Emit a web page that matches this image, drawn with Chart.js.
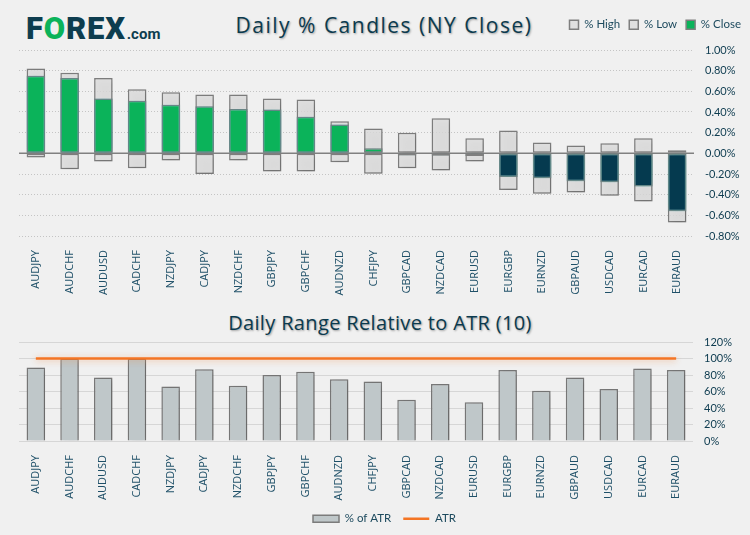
<!DOCTYPE html>
<html>
<head>
<meta charset="utf-8">
<script src="https://cdn.jsdelivr.net/npm/chart.js@4.4.1/dist/chart.umd.min.js"></script>
<style>
  html, body { margin:0; padding:0; background:#f0f0f0; }
  body { width:750px; height:535px; position:relative; overflow:hidden; font-family:'Open Sans', sans-serif; }
  canvas { position:absolute; left:0; }
  #c1 { top:0; }
  #c2 { top:300px; }
  .logo { position:absolute; left:26px; top:9px; font-family:Roboto, 'Open Sans', sans-serif; font-weight:900; font-size:31px; color:#0d3d4f; letter-spacing:0.8px; line-height:40px; }
  .logo .o { color:#0bb35a; }
  .logo small { font-size:15px; font-weight:700; letter-spacing:0; margin-left:1px; }
  .title { position:absolute; left:0; text-align:center; font-family:'Open Sans', sans-serif; color:#0b3a4e; text-shadow:1px 1px 2px rgba(0,0,0,0.35); }
  #t1 { top:11px; width:768px; font-size:21px; letter-spacing:1.5px; }
  #t2 { top:309px; width:760px; font-size:20px; letter-spacing:0.35px; }
</style>
</head>
<body>
<div class="logo">F<span class="o">O</span>REX<small>.com</small></div>
<div class="title" id="t1">Daily % Candles (NY Close)</div>
<div class="title" id="t2">Daily Range Relative to ATR (10)</div>
<canvas id="c1" width="750" height="300"></canvas>
<canvas id="c2" width="750" height="235"></canvas>
<script>
const categories = ['AUDJPY','AUDCHF','AUDUSD','CADCHF','NZDJPY','CADJPY','NZDCHF','GBPJPY','GBPCHF','AUDNZD','CHFJPY','GBPCAD','NZDCAD','EURUSD','EURGBP','EURNZD','GBPAUD','USDCAD','EURCAD','EURAUD'];
const highPct  = [0.82, 0.78, 0.73, 0.62, 0.59, 0.57, 0.57, 0.53, 0.52, 0.31, 0.24, 0.20, 0.34, 0.145, 0.22, 0.105, 0.077, 0.097, 0.145, 0.03];
const lowPct   = [-0.04, -0.155, -0.08, -0.145, -0.07, -0.20, -0.07, -0.175, -0.175, -0.087, -0.197, -0.145, -0.165, -0.078, -0.355, -0.39, -0.38, -0.41, -0.465, -0.67];
const closePct = [0.75, 0.73, 0.53, 0.51, 0.47, 0.455, 0.43, 0.425, 0.355, 0.28, 0.048, -0.02, -0.023, -0.025, -0.23, -0.24, -0.27, -0.28, -0.32, -0.56];
const atrPct   = [89, 100, 77, 100, 66, 87, 67, 80, 84, 75, 72, 50, 69, 47, 86, 61, 77, 63, 88, 86];
const atrLevel = [100, 100, 100, 100, 100, 100, 100, 100, 100, 100, 100, 100, 100, 100, 100, 100, 100, 100, 100, 100];
const topTicks = { min: -0.8, max: 1.0, step: 0.2 };
const botTicks = { min: 0, max: 120, step: 20 };

Chart.defaults.font.family = 'Lato';
Chart.defaults.color = '#0d3b4f';

const navy = '#053a4f', green = '#0bb35a';

const legendHeight = {
  id: 'legendHeight',
  beforeLayout(chart, args, opts) {
    const lg = chart.legend;
    if (lg && !lg._patched) {
      const f = lg.fit;
      lg.fit = function () { f.call(this); this.height = opts.h; };
      lg._patched = true;
    }
  }
};
const shadows = {
  id: 'shadows',
  beforeDatasetDraw(chart, args) {
    const s = chart.data.datasets[args.index].shadow;
    if (s) {
      const c = chart.ctx; c.save();
      c.shadowColor = s.color; c.shadowBlur = s.blur;
      c.shadowOffsetX = s.x || 0; c.shadowOffsetY = s.y || 0;
    }
  },
  afterDatasetDraw(chart, args) {
    if (chart.data.datasets[args.index].shadow) chart.ctx.restore();
  }
};
const zeroLine = {
  id: 'zeroLine',
  beforeDatasetsDraw(chart) {
    const y = chart.scales.y.getPixelForValue(0);
    const c = chart.ctx, a = chart.chartArea;
    c.save(); c.strokeStyle = '#808080'; c.lineWidth = 1.5;
    c.beginPath(); c.moveTo(a.left, y); c.lineTo(a.right, y); c.stroke(); c.restore();
  }
};

const xTickOpts = {
  autoSkip: false, maxRotation: 90, minRotation: 90, padding: 6,
  font: { family: 'Open Sans', size: 11 }, color: '#1f5068'
};

new Chart(document.getElementById('c1'), {
  type: 'bar',
  plugins: [legendHeight, shadows, zeroLine],
  data: {
    labels: categories,
    datasets: [
      { label: '% High', data: highPct, grouped: false, order: 2,
        backgroundColor: 'rgba(220,220,220,0.8)', borderColor: '#7f7f7f', borderWidth: 1.5, borderSkipped: false,
        barPercentage: 0.55, categoryPercentage: 1,
        shadow: { color: 'rgba(0,0,0,0.18)', blur: 6, x: 2, y: 2 } },
      { label: '% Low', data: lowPct, grouped: false, order: 2,
        backgroundColor: 'rgba(220,220,220,0.8)', borderColor: '#7f7f7f', borderWidth: 1.5, borderSkipped: false,
        barPercentage: 0.55, categoryPercentage: 1,
        shadow: { color: 'rgba(0,0,0,0.18)', blur: 6, x: 2, y: 2 } },
      { label: '% Close', data: closePct, grouped: false, order: 1,
        backgroundColor: ctx => (ctx.raw < 0 ? navy : green), borderColor: '#7f7f7f', borderWidth: 1.5, borderSkipped: false,
        barPercentage: 0.55, categoryPercentage: 1,
        shadow: { color: 'rgba(0,170,170,0.55)', blur: 8, x: 0, y: 0 } }
    ]
  },
  options: {
    responsive: false, animation: false,
    layout: { padding: { left: 19, right: 0, top: 10, bottom: 0 } },
    plugins: {
      legendHeight: { h: 40 },
      legend: {
        position: 'top', align: 'end',
        labels: { boxWidth: 9, boxHeight: 9, padding: 9, color: '#1d4a5e', font: { size: 11.5 },
          sort: (a, b) => a.datasetIndex - b.datasetIndex }
      },
      tooltip: { enabled: false }
    },
    scales: {
      x: {
        grid: { display: false }, border: { display: false },
        ticks: xTickOpts,
        afterFit: s => { s.height = 64; }
      },
      y: {
        position: 'right', min: topTicks.min, max: topTicks.max,
        grid: { color: '#c4c4c4', lineWidth: 1, drawTicks: false },
        border: { display: false, dash: [1, 2] },
        ticks: { stepSize: topTicks.step, padding: 11, font: { size: 11 }, color: '#0d3b4f',
          callback: v => (Math.abs(v) < 1e-9 ? 0 : v).toFixed(2) + '%' },
        afterFit: s => { s.width = 56; }
      }
    }
  }
});

new Chart(document.getElementById('c2'), {
  type: 'bar',
  plugins: [legendHeight, shadows],
  data: {
    labels: categories,
    datasets: [
      { type: 'line', label: 'ATR', data: atrLevel, order: 1,
        borderColor: '#f47524', backgroundColor: '#f47524', borderWidth: 2.5,
        pointRadius: 0, pointHoverRadius: 0, pointStyle: 'line', pointBorderWidth: 2.5, pointBorderColor: '#f47524',
        shadow: { color: 'rgba(240,120,40,0.45)', blur: 6, x: 0, y: 1 } },
      { label: '% of ATR', data: atrPct, order: 2,
        backgroundColor: '#bfc7c9', borderColor: '#7b7b7b', borderWidth: 1.5, borderSkipped: 'start',
        barPercentage: 0.55, categoryPercentage: 1, pointStyle: 'rect',
        shadow: { color: 'rgba(0,0,0,0.2)', blur: 6, x: 2, y: 1 } }
    ]
  },
  options: {
    responsive: false, animation: false,
    layout: { padding: { left: 19, right: 0, top: 42, bottom: 0 } },
    plugins: {
      legendHeight: { h: 34 },
      legend: {
        position: 'bottom', align: 'center',
        labels: { usePointStyle: true, pointStyleWidth: 26, boxHeight: 7, padding: 12, color: '#1d4a5e', font: { size: 11.5 },
          sort: (a, b) => b.datasetIndex - a.datasetIndex }
      },
      tooltip: { enabled: false }
    },
    scales: {
      x: {
        grid: { display: false }, border: { display: false },
        ticks: xTickOpts,
        afterFit: s => { s.height = 60; }
      },
      y: {
        position: 'right', min: botTicks.min, max: botTicks.max,
        grid: { color: '#d6d6d6', lineWidth: 1, drawTicks: false },
        border: { display: false },
        ticks: { stepSize: botTicks.step, padding: 11, font: { size: 11 }, color: '#0d3b4f',
          callback: v => v + '%' },
        afterFit: s => { s.width = 57; }
      }
    }
  }
});
</script>
</body>
</html>
